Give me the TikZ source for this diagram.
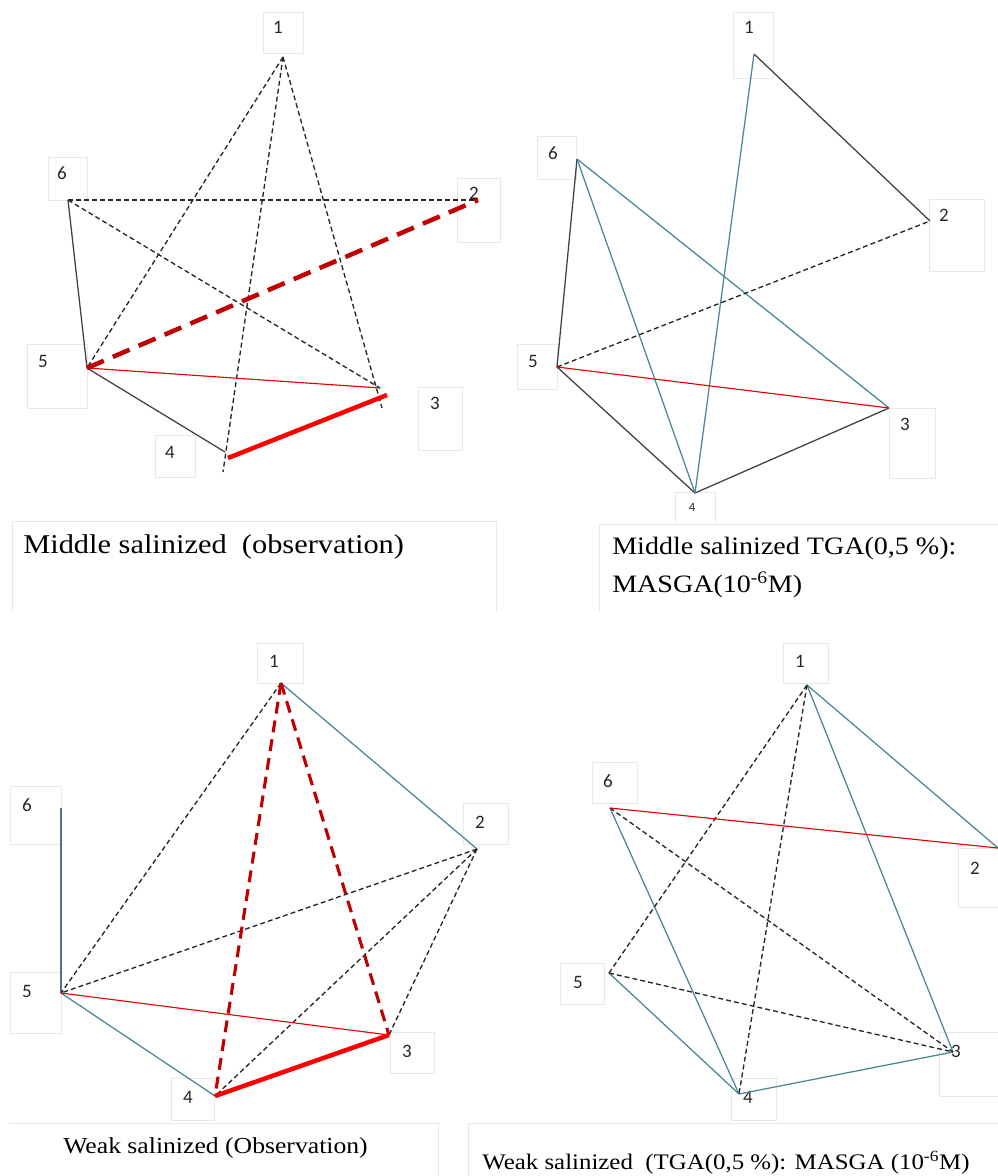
\documentclass[tikz,border=0pt]{standalone}
\usepackage{fontspec}
\setmainfont{Liberation Serif}
\newfontfamily\lblfont{Carlito}
\newfontfamily\capfont[FakeStretch=1.12]{Liberation Serif}
\definecolor{tealedge}{HTML}{4B8796}
\definecolor{blueedge}{HTML}{4F6E9E}
\definecolor{darkred}{HTML}{C00000}
\begin{document}
\begin{tikzpicture}[x=0.025cm, y=-0.025cm,
    lbl/.style={font=\lblfont\fontsize{13.5}{15}\selectfont, text=black!85, inner sep=0},
    lbox/.style={draw=black!9, line width=0.5pt},
    captext/.style={font=\capfont\fontsize{19.3}{26}\selectfont, anchor=base west, inner sep=0},
    capsmall/.style={captext, font=\capfont\fontsize{16.3}{22}\selectfont},
    dsh/.style={draw=black!85, line width=0.95pt, dash pattern=on 3.5pt off 2.2pt},
    dark/.style={draw=black!75, line width=0.9pt},
    tealline/.style={draw=tealedge, line width=0.9pt},
    redthin/.style={draw=red!90!black, line width=0.8pt},
    redthick/.style={draw=red, line width=3.2pt},
    reddsh/.style={draw=darkred, line width=3.2pt, dash pattern=on 13pt off 7pt}]
  \useasboundingbox (0,0) rectangle (998,1176);

  % Middle salinized (observation)
  \coordinate (A1) at (283,57);  \coordinate (A2) at (478,200);
  \coordinate (A3) at (380,388); \coordinate (A4) at (225,452);
  \coordinate (A5) at (87,368);  \coordinate (A6) at (68,200);
  \coordinate (A3d) at (382,408); \coordinate (A4d) at (223,472);
  \coordinate (A3r) at (387,395); \coordinate (A4r) at (228,458);
  \draw[lbox] (263,12) rectangle (303,53);   \node[lbl] (la1) at (278,27) {1};
  \draw[lbox] (457,178) rectangle (500,242); \node[lbl] (la2) at (474,193) {2};
  \draw[lbox] (418,387) rectangle (462,450); \node[lbl] (la3) at (435,403) {3};
  \draw[lbox] (155,435) rectangle (195,477); \node[lbl] (la4) at (170,452) {4};
  \draw[lbox] (27,344) rectangle (87,408);   \node[lbl] (la5) at (43,361) {5};
  \draw[lbox] (48,157) rectangle (87,200);   \node[lbl] (la6) at (62,173) {6};
  \draw[dsh] (A1) -- (A5);
  \draw[dsh] (A1) -- (A4d);
  \draw[dsh] (A1) -- (A3d);
  \draw[dsh] (A6) -- (A2);
  \draw[dsh] (A6) -- (A3);
  \draw[dark] (A6) -- (A5) -- (A4);
  \draw[redthin] (A5) -- (A3);
  \draw[reddsh] (A5) -- (A2);
  \draw[redthick] (A4r) -- (A3r);
  \draw[lbox] (12,612) -- (12,521) -- (496,521) -- (496,612);
  \node[captext] (capA) at (23,553) {Middle salinized\ \ (observation)};

  % Middle salinized TGA : MASGA
  \coordinate (B1) at (754,54);  \coordinate (B2) at (930,221);
  \coordinate (B3) at (889,408); \coordinate (B4) at (695,493);
  \coordinate (B5) at (557,367); \coordinate (B6) at (577,159);
  \draw[lbox] (733,12) rectangle (773,78);   \node[lbl] (lb1) at (749,27) {1};
  \draw[lbox] (929,199) rectangle (984,271); \node[lbl] (lb2) at (944,215) {2};
  \draw[lbox] (889,408) rectangle (935,478); \node[lbl] (lb3) at (905,424) {3};
  \draw[lbox] (675,524) -- (675,492) -- (715,492) -- (715,524);
  \node[lbl, font=\lblfont\fontsize{9}{11}\selectfont] (lb4) at (692,507) {4};
  \draw[lbox] (517,344) rectangle (557,389); \node[lbl] (lb5) at (533,361) {5};
  \draw[lbox] (537,136) rectangle (576,179); \node[lbl] (lb6) at (553,153) {6};
  \draw[dark] (B1) -- (B2);
  \draw[dark] (B6) -- (B5) -- (B4) -- (B3);
  \draw[tealline] (B1) -- (B4);
  \draw[tealline] (B6) -- (B4);
  \draw[tealline] (B6) -- (B3);
  \draw[dsh] (B5) -- (B2);
  \draw[redthin] (B5) -- (B3);
  \draw[lbox] (599,612) -- (599,524) -- (998,524);
  \node[captext, font=\capfont\fontsize{17.8}{24}\selectfont] (capB) at (612,554) {Middle salinized TGA(0,5 \%):};
  \node[captext, font=\capfont\fontsize{17.8}{24}\selectfont] (capBb) at (612,592) {MASGA(10\textsuperscript{-6}M)};

  % Weak salinized (Observation)
  \coordinate (C1) at (281,683); \coordinate (C2) at (477,849);
  \coordinate (C3) at (389,1035); \coordinate (C4) at (215,1096);
  \coordinate (C5) at (61,993);  \coordinate (C6) at (61,808);
  \draw[lbox] (257,643) rectangle (303,683);   \node[lbl] (lc1) at (274,661) {1};
  \draw[lbox] (463,803) rectangle (508,844);   \node[lbl] (lc2) at (480,822) {2};
  \draw[lbox] (390,1032) rectangle (434,1073); \node[lbl] (lc3) at (407,1051) {3};
  \draw[lbox] (171,1078) rectangle (214,1120); \node[lbl] (lc4) at (188,1097) {4};
  \draw[lbox] (10,972) rectangle (61,1033);    \node[lbl] (lc5) at (27,991) {5};
  \draw[lbox] (10,786) rectangle (61,844);     \node[lbl] (lc6) at (27,805) {6};
  \draw[draw=blueedge, line width=1pt] (C6) -- (C5);
  \draw[tealline] (C1) -- (C2);
  \draw[tealline] (C5) -- (C4);
  \draw[dsh] (C1) -- (C5);
  \draw[dsh] (C2) -- (C5);
  \draw[dsh] (C2) -- (C4);
  \draw[dsh] (C2) -- (C3);
  \draw[reddsh, line width=2.2pt, dash pattern=on 8.5pt off 5pt] (C1) -- (C4);
  \draw[reddsh, line width=2.2pt, dash pattern=on 8.5pt off 5pt] (C1) -- (C3);
  \draw[redthin] (C5) -- (C3);
  \draw[redthick] (C4) -- (C3);
  \draw[lbox] (9,1123) -- (438,1123) -- (438,1176);
  \node[capsmall] (capC) at (63,1153) {Weak salinized (Observation)};

  % Weak salinized TGA : MASGA
  \coordinate (D1) at (807,685); \coordinate (D2) at (998,848);
  \coordinate (D3) at (953,1052); \coordinate (D4) at (739,1094);
  \coordinate (D5) at (609,973); \coordinate (D6) at (610,808);
  \draw[lbox] (783,643) rectangle (828,683);   \node[lbl] (ld1) at (800,661) {1};
  \draw[lbox] (958,848) rectangle (998,907);   \node[lbl] (ld2) at (975,868) {2};
  \draw[lbox] (939,1032) rectangle (998,1096); \node[lbl] (ld3) at (956,1051) {3};
  \draw[lbox] (731,1078) rectangle (776,1120); \node[lbl] (ld4) at (748,1097) {4};
  \draw[lbox] (560,963) rectangle (604,1004);  \node[lbl] (ld5) at (578,982) {5};
  \draw[lbox] (592,762) rectangle (637,803);   \node[lbl] (ld6) at (608,781) {6};
  \draw[tealline] (D1) -- (D2);
  \draw[tealline] (D1) -- (D3);
  \draw[tealline] (D6) -- (D4);
  \draw[tealline] (D5) -- (D4) -- (D3);
  \draw[dsh] (D1) -- (D5);
  \draw[dsh] (D1) -- (D4);
  \draw[dsh] (D6) -- (D3);
  \draw[dsh] (D5) -- (D3);
  \draw[redthin] (D6) -- (D2);
  \draw[lbox] (468,1176) -- (468,1123) -- (998,1123);
  \node[capsmall, font=\capfont\fontsize{15.8}{22}\selectfont] (capD) at (482,1169) {Weak salinized\ \ (TGA(0,5 \%): MASGA (10\textsuperscript{-6}M)};
\end{tikzpicture}
\end{document}
